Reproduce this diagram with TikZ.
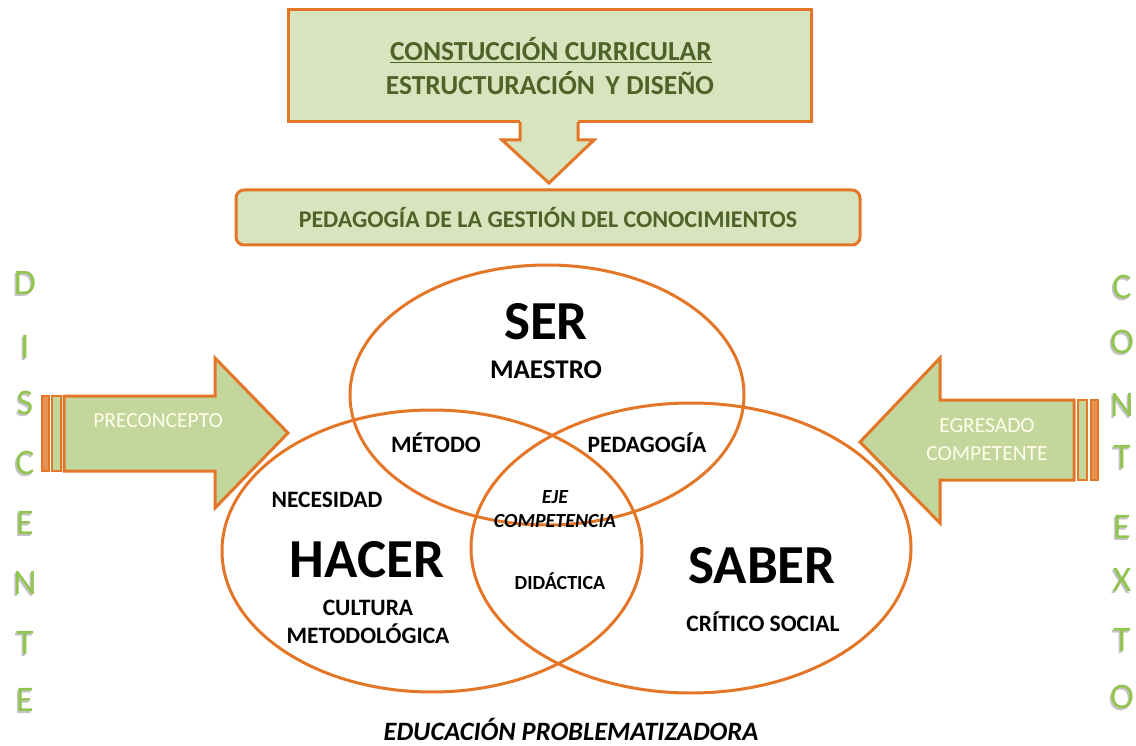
\documentclass[tikz,border=0pt]{standalone}
\usepackage{fontspec}
\setmainfont{Carlito}
\definecolor{naranja}{RGB}{228,118,40}
\definecolor{verdeclaro}{RGB}{216,228,190}
\definecolor{verdeflecha}{RGB}{195,214,155}
\definecolor{verdeoscuro}{RGB}{79,98,40}
\definecolor{verdeletra}{RGB}{146,196,80}
\definecolor{sombra}{RGB}{195,195,195}
\tikzset{
  borde/.style={draw=naranja,line width=3pt,line join=miter},
  raya/.style={draw=naranja,line width=2.5pt},
  circulo/.style={draw=naranja,line width=3pt},
  titulo/.style={text=verdeoscuro,font=\bfseries\fontsize{27.5}{30}\selectfont},
  grande/.style={font=\bfseries\fontsize{55}{60}\selectfont},
  etiqueta/.style={font=\bfseries\fontsize{23.5}{28}\selectfont},
  chica/.style={font=\bfseries\itshape\fontsize{20}{24}\selectfont},
  blanco/.style={text=white!92!yellow,font=\fontsize{21.5}{28}\selectfont},
  letra/.style={text=verdeletra,font=\fontsize{36}{40}\selectfont},
  letrasombra/.style={text=sombra,font=\fontsize{36}{40}\selectfont}
}
\begin{document}
\begin{tikzpicture}[x=1pt,y=-1pt]
\useasboundingbox (0,0) rectangle (1136,746);
% caja de arriba y flecha hacia abajo
\draw[borde,fill=verdeclaro] (288,10) rectangle (811,122);
\fill[verdeclaro] (520,118) -- (520,140) -- (502,140) -- (549,183) -- (594,140) -- (578,140) -- (578,118) -- cycle;
\draw[borde] (520,122) -- (520,140) -- (502,140) -- (549,183) -- (594,140) -- (578,140) -- (578,122);
\node[titulo] (curricular) at (551,50) {\underline{CONSTUCCIÓN CURRICULAR}};
\node[titulo] (diseno) at (550,83) {ESTRUCTURACIÓN\, Y DISEÑO};
\node[borde,fill=verdeclaro,rounded corners=8pt,minimum width=624pt,minimum height=55pt,
  text=verdeoscuro,font=\bfseries\fontsize{24}{26}\selectfont] (pedagogia) at (548,217.5)
  {PEDAGOGÍA DE LA GESTIÓN DEL CONOCIMIENTOS};
% los tres circulos
\draw[circulo] (547,395) ellipse [x radius=197pt,y radius=130pt];
\draw[circulo] (432,551) ellipse [x radius=210pt,y radius=141pt];
\draw[circulo] (691,548) ellipse [x radius=220pt,y radius=145pt];
\node[grande] (ser) at (546,322) {SER};
\node[etiqueta,font=\bfseries\fontsize{27}{30}\selectfont] (maestro) at (546,370) {MAESTRO};
\node[etiqueta] (metodo) at (436,443) {MÉTODO};
\node[etiqueta] (pedag) at (647,443) {PEDAGOGÍA};
\node[etiqueta] (necesidad) at (327,500) {NECESIDAD};
\node[chica,align=center] (eje) at (555,509) {EJE\\COMPETENCIA};
\node[grande] (hacer) at (367,560) {HACER};
\node[etiqueta,align=center] (cultura) at (368,622) {CULTURA\\METODOLÓGICA};
\node[etiqueta,font=\bfseries\fontsize{20}{24}\selectfont] (didactica) at (560,581) {DIDÁCTICA};
\node[grande] (saber) at (762,566) {SABER};
\node[etiqueta] (critico) at (763,622) {CRÍTICO SOCIAL};
\node[etiqueta,font=\bfseries\itshape\fontsize{26.5}{28}\selectfont,anchor=base,inner sep=0pt] (educacion) at (571,740) {EDUCACIÓN PROBLEMATIZADORA};
% flecha izquierda
\draw[borde,fill=verdeflecha] (64,396) -- (215,396) -- (215,358) -- (288,433) -- (215,508) -- (215,471) -- (64,471) -- cycle;
\draw[raya,fill=verdeflecha] (52,396) rectangle (61,471);
\draw[raya,fill=naranja!80!white] (42,396) rectangle (49,471);
\node[blanco] (preconcepto) at (158,421) {PRECONCEPTO};
% flecha derecha
\draw[borde,fill=verdeflecha] (1074,400) -- (940,400) -- (940,358) -- (860,442) -- (940,523) -- (940,480) -- (1074,480) -- cycle;
\draw[raya,fill=verdeflecha] (1078,400) rectangle (1087,480);
\draw[raya,fill=naranja!80!white] (1091,400) rectangle (1098,480);
\node[blanco,align=center] (egresado) at (987,440) {EGRESADO\\COMPETENTE};
% letras verticales
\foreach \l/\y [count=\i] in {D/283,I/347,S/403,C/463,E/523,N/583,T/643,E/700}{
  \node[letrasombra] at (23.5,\y+2) {\l};
  \node[letra] (discente\i) at (25,\y) {\l};
}
\foreach \l/\y [count=\i] in {C/287,O/342,N/405,T/457,E/527,X/580,T/640,O/697}{
  \node[letrasombra] at (1120.5,\y+2) {\l};
  \node[letra] (contexto\i) at (1122,\y) {\l};
}
\end{tikzpicture}
\end{document}
